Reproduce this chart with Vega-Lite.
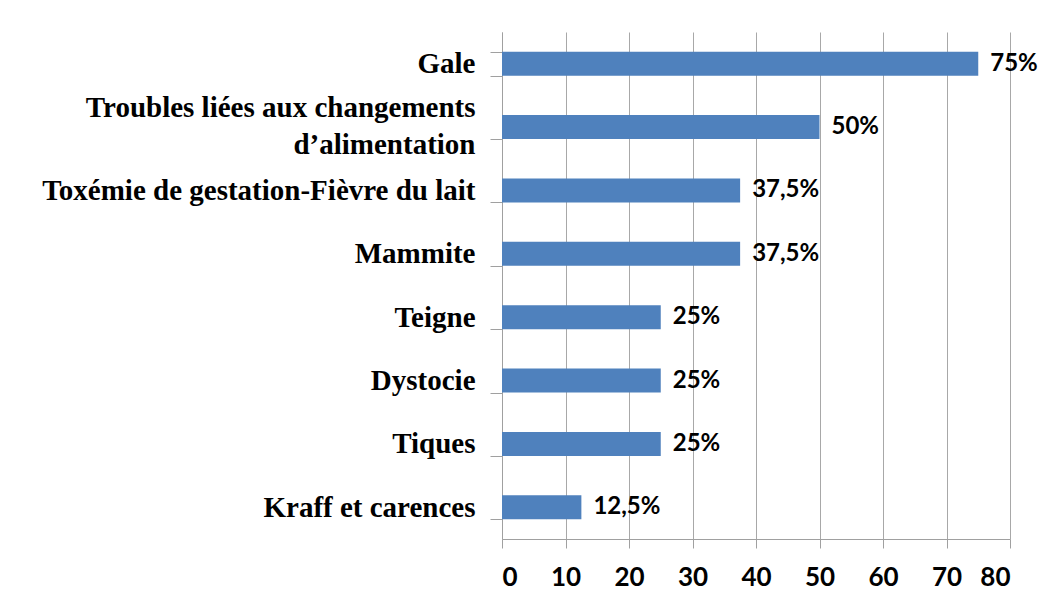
{
  "$schema": "https://vega.github.io/schema/vega-lite/v6.json",
  "autosize": "none",
  "padding": {"left": 502, "top": 32, "right": 37, "bottom": 63},
  "width": 508,
  "height": 507,
  "background": "white",
  "data": {"values": [
    {"maladie": "Gale", "pct": 75, "label": "75%"},
    {"maladie": "Troubles liées aux changements|d’alimentation", "pct": 50, "label": "50%"},
    {"maladie": "Toxémie de gestation-Fièvre du lait", "pct": 37.5, "label": "37,5%"},
    {"maladie": "Mammite", "pct": 37.5, "label": "37,5%"},
    {"maladie": "Teigne", "pct": 25, "label": "25%"},
    {"maladie": "Dystocie", "pct": 25, "label": "25%"},
    {"maladie": "Tiques", "pct": 25, "label": "25%"},
    {"maladie": "Kraff et carences", "pct": 12.5, "label": "12,5%"}
  ]},
  "encoding": {
    "y": {
      "field": "maladie", "type": "nominal", "sort": null,
      "scale": {"paddingInner": 0.62, "paddingOuter": 0.31},
      "axis": {
        "title": null,
        "labelExpr": "split(datum.label, '|')",
        "labelFont": "Liberation Serif",
        "labelFontWeight": "bold",
        "labelFontSize": 29,
        "labelLineHeight": 37,
        "labelOffset": {"condition": {"test": "indexof(datum.label, '|') >= 0", "value": -20}, "value": 0},
        "labelColor": "black",
        "labelPadding": 15,
        "labelLimit": 600,
        "tickBand": "extent",
        "tickSize": 12,
        "tickColor": "#a0a0a0",
        "domainColor": "#a0a0a0",
        "grid": false
      }
    },
    "x": {
      "field": "pct", "type": "quantitative",
      "scale": {"domain": [0, 80], "nice": false},
      "axis": {
        "title": null,
        "values": [0, 10, 20, 30, 40, 50, 60, 70, 80],
        "labelFont": "Lato",
        "labelFontWeight": "bold",
        "labelFontSize": 26,
        "labelColor": "black",
        "labelPadding": 16,
        "tickSize": 9,
        "tickColor": "#a0a0a0",
        "domainColor": "#a0a0a0",
        "gridColor": "#a8a8a8",
        "gridWidth": 1,
        "grid": true
      }
    }
  },
  "layer": [
    {"mark": {"type": "bar", "color": "#4F81BD"}},
    {
      "mark": {"type": "text", "align": "left", "baseline": "middle", "dx": 12, "font": "Lato", "fontWeight": "bold", "fontSize": 24, "color": "black"},
      "encoding": {"text": {"field": "label"}}
    }
  ],
  "config": {"view": {"stroke": null}}
}
